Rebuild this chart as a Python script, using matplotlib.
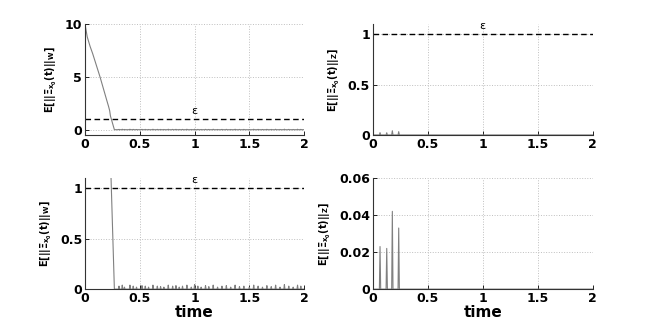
import numpy as np
import matplotlib
matplotlib.use("Agg")
import matplotlib.pyplot as plt

plt.rcParams['font.family'] = ['DejaVu Sans']
plt.rcParams['mathtext.default'] = 'bf'

# norma W: caida inicial (tiempo, valor)
t_caida = [0.0, 0.02, 0.046, 0.07, 0.091, 0.122, 0.137, 0.167, 0.198, 0.215, 0.225, 0.232, 0.268]
w_caida = [10.0, 8.8, 7.9, 7.2, 6.5, 5.5, 5.0, 3.9, 2.8, 2.2, 1.8, 1.3, 0.0]

# picos pequeños despues de la caida (tiempo, altura)
t_picos = [0.31, 0.34, 0.36, 0.41, 0.44, 0.47, 0.52, 0.55, 0.58, 0.62, 0.66, 0.69,
           0.72, 0.76, 0.80, 0.83, 0.86, 0.89, 0.93, 0.97, 1.00, 1.03, 1.06, 1.10,
           1.13, 1.17, 1.21, 1.25, 1.29, 1.33, 1.37, 1.41, 1.45, 1.50, 1.54, 1.58,
           1.62, 1.66, 1.70, 1.74, 1.78, 1.82, 1.86, 1.90, 1.94, 1.97]
h_picos = [0.03, 0.04, 0.02, 0.04, 0.03, 0.02, 0.035, 0.03, 0.02, 0.04, 0.03, 0.025,
           0.02, 0.04, 0.03, 0.035, 0.02, 0.03, 0.04, 0.02, 0.045, 0.03, 0.02, 0.035,
           0.025, 0.04, 0.02, 0.03, 0.035, 0.02, 0.04, 0.025, 0.03, 0.02, 0.04, 0.03,
           0.02, 0.035, 0.025, 0.04, 0.02, 0.045, 0.03, 0.02, 0.04, 0.03]

# norma Z: picos
t_z = [0.0, 0.006, 0.06, 0.066, 0.072, 0.121, 0.127, 0.133, 0.172, 0.178, 0.184,
       0.230, 0.236, 0.242, 2.0]
z = [0.040, 0.0, 0.0, 0.023, 0.0, 0.0, 0.022, 0.0, 0.0, 0.042, 0.0, 0.0, 0.033, 0.0, 0.0]

epsilon = 1.0

# cada pico como triangulo angosto sobre cero
t_w = list(t_caida)
w = list(w_caida)
for tp, hp in zip(t_picos, h_picos):
    t_w += [tp - 0.005, tp, tp + 0.005]
    w += [0.0, hp, 0.0]
t_w.append(2.0)
w.append(0.0)

lab_w = r'E[||Ξ$_{x_0}$(t)||$_W$]'
lab_z = r'E[||Ξ$_{x_0}$(t)||$_Z$]'

fig = plt.figure(figsize=(6.54, 3.26), dpi=100)
pos = [[0.130, 0.586, 0.335, 0.340], [0.570, 0.586, 0.336, 0.340],
       [0.130, 0.113, 0.335, 0.341], [0.570, 0.113, 0.336, 0.341]]
axs = [fig.add_axes(p) for p in pos]

config = [
    (t_w, w, lab_w, (-0.5, 10), [0, 5, 10], ['0', '5', '10'], True),
    (t_z, z, lab_z, (0, 1.1), [0, 0.5, 1], ['0', '0.5', '1'], True),
    (t_w, w, lab_w, (0, 1.1), [0, 0.5, 1], ['0', '0.5', '1'], True),
    (t_z, z, lab_z, (0, 0.06), [0, 0.02, 0.04, 0.06], ['0', '0.02', '0.04', '0.06'], False),
]

for i, (ax, (tt, yy, lab, ylim, yt, ytl, con_eps)) in enumerate(zip(axs, config)):
    ax.plot(tt, yy, color='0.5', lw=0.8)
    if con_eps:
        ax.axhline(epsilon, color='k', lw=1, ls=(0, (4, 2.5)))
        off = 0.03 * (ylim[1] - ylim[0])
        ax.text(1.0, epsilon + off, 'ε', ha='center', va='bottom', fontsize=8)
    ax.set_xlim(0, 2)
    ax.set_ylim(*ylim)
    ax.set_xticks([0, 0.5, 1, 1.5, 2])
    ax.set_xticklabels(['0', '0.5', '1', '1.5', '2'])
    ax.set_yticks(yt)
    ax.set_yticklabels(ytl)
    ax.grid(True, ls=':', color='0.75', lw=0.7)
    for s in ['top', 'right']:
        ax.spines[s].set_visible(False)
    for s in ['left', 'bottom']:
        ax.spines[s].set_color('0.2')
        ax.spines[s].set_linewidth(0.8)
    ax.tick_params(direction='in', length=3, width=0.6, labelsize=9)
    ax.tick_params(axis='x', pad=2)
    ax.tick_params(axis='y', pad=2)
    for lbl in ax.get_xticklabels() + ax.get_yticklabels():
        lbl.set_fontweight('bold')
    ax.set_ylabel(lab, fontsize=7, fontweight='bold', labelpad=4)
    if i >= 2:
        ax.set_xlabel('time', fontsize=11, fontweight='bold', labelpad=0)

fig.savefig('out.png', dpi=100)
